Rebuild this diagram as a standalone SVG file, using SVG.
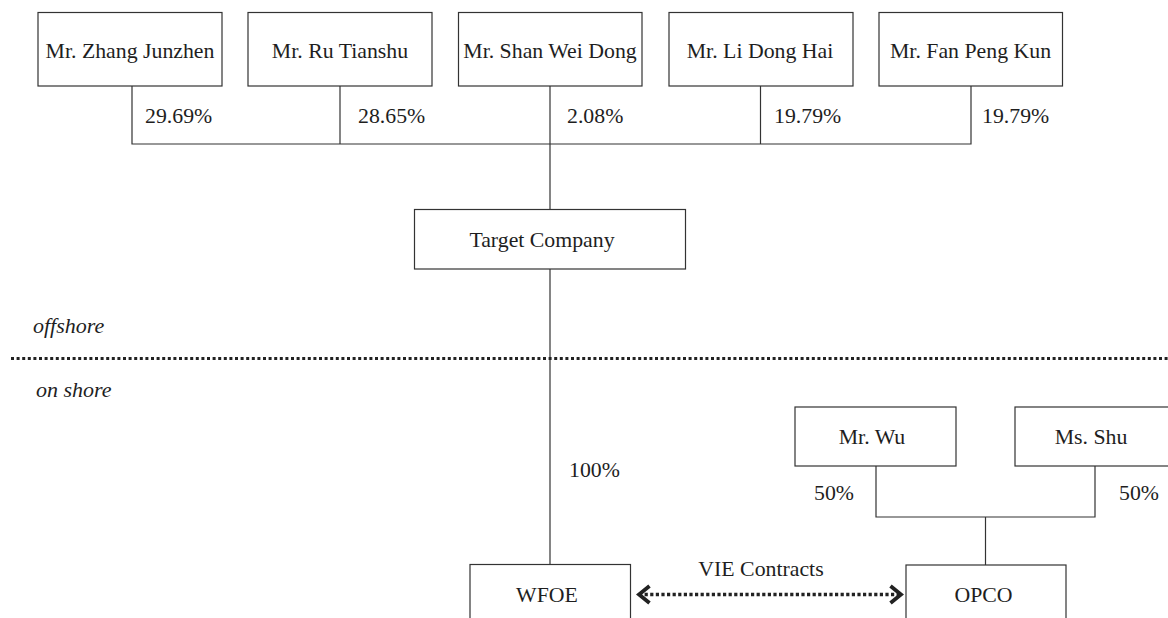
<svg xmlns="http://www.w3.org/2000/svg" width="1168" height="618" viewBox="0 0 1168 618">
<style>
  .box { fill: #ffffff; stroke: #333333; stroke-width: 1.2; }
  text { font-family: 'Liberation Serif', 'Times New Roman', 'DejaVu Serif', serif; font-size: 21.8px; fill: #1e1e1e; }
  .mid { text-anchor: middle; }
  .it { font-style: italic; font-size: 22px; }
  .ln { fill: none; stroke: #333333; stroke-width: 1.2; }
  .dot { fill: none; stroke: #222222; stroke-width: 3; stroke-dasharray: 3 2.6; }
  .vie { fill: none; stroke: #222222; stroke-width: 3.6; stroke-dasharray: 3.2 2.4; }
</style>
<defs>
  <marker id="chev" markerUnits="userSpaceOnUse" viewBox="0 0 16 22" refX="13" refY="11" markerWidth="16" markerHeight="22" orient="auto-start-reverse">
    <path d="M2.5,2.5 L13,11 L2.5,19.5" fill="none" stroke="#222222" stroke-width="3.8" stroke-linejoin="miter"/>
  </marker>
</defs>
<rect width="1168" height="618" fill="#ffffff"/>

<g id="connectors">
  <path class="ln" d="M132,86 V144 H971 V86"/>
  <path class="ln" d="M340,86 V144"/>
  <path class="ln" d="M550,86 V209"/>
  <path class="ln" d="M760.5,86 V144"/>
  <path class="ln" d="M550,269 V564"/>
  <path class="ln" d="M876,466 V517 H1095 V466"/>
  <path class="ln" d="M985.5,517 V565"/>
  <line class="vie" x1="639" y1="594.5" x2="901" y2="594.5" marker-start="url(#chev)" marker-end="url(#chev)"/>
</g>

<g id="separator">
  <line class="dot" x1="11" y1="358.5" x2="1168" y2="358.5"/>
  <text class="it" x="33" y="333">offshore</text>
  <text class="it" x="36" y="397">on shore</text>
</g>

<g id="zhang">
  <rect class="box" x="38" y="12.5" width="184" height="73.5"/>
  <text class="mid" x="130" y="58">Mr. Zhang Junzhen</text>
</g>
<g id="ru">
  <rect class="box" x="248" y="12.5" width="184" height="73.5"/>
  <text class="mid" x="340" y="58">Mr. Ru Tianshu</text>
</g>
<g id="shan">
  <rect class="box" x="458.5" y="12.5" width="183.5" height="73.5"/>
  <text class="mid" x="550" y="58">Mr. Shan Wei Dong</text>
</g>
<g id="li">
  <rect class="box" x="669" y="12.5" width="184" height="73.5"/>
  <text class="mid" x="760" y="58">Mr. Li Dong Hai</text>
</g>
<g id="fan">
  <rect class="box" x="879" y="12.5" width="183.5" height="73.5"/>
  <text class="mid" x="970.5" y="58">Mr. Fan Peng Kun</text>
</g>

<g id="percentages">
  <text x="145" y="123">29.69%</text>
  <text x="358" y="123">28.65%</text>
  <text x="567" y="123">2.08%</text>
  <text x="774" y="123">19.79%</text>
  <text x="982" y="123">19.79%</text>
  <text x="569" y="477">100%</text>
  <text x="814" y="500">50%</text>
  <text x="1119" y="500">50%</text>
  <text class="mid" x="761" y="576">VIE Contracts</text>
</g>

<g id="target">
  <rect class="box" x="414.5" y="209.5" width="271" height="59.5"/>
  <text class="mid" x="542" y="247">Target Company</text>
</g>

<g id="wu">
  <rect class="box" x="795" y="407" width="161" height="59"/>
  <text class="mid" x="872" y="444">Mr. Wu</text>
</g>
<g id="shu">
  <rect class="box" x="1015" y="407" width="161" height="59"/>
  <text class="mid" x="1091" y="444">Ms. Shu</text>
</g>

<g id="wfoe">
  <rect class="box" x="470" y="564.5" width="160.5" height="70"/>
  <text class="mid" x="547" y="602">WFOE</text>
</g>
<g id="opco">
  <rect class="box" x="906" y="565" width="160" height="70"/>
  <text class="mid" x="983.5" y="602">OPCO</text>
</g>
</svg>
